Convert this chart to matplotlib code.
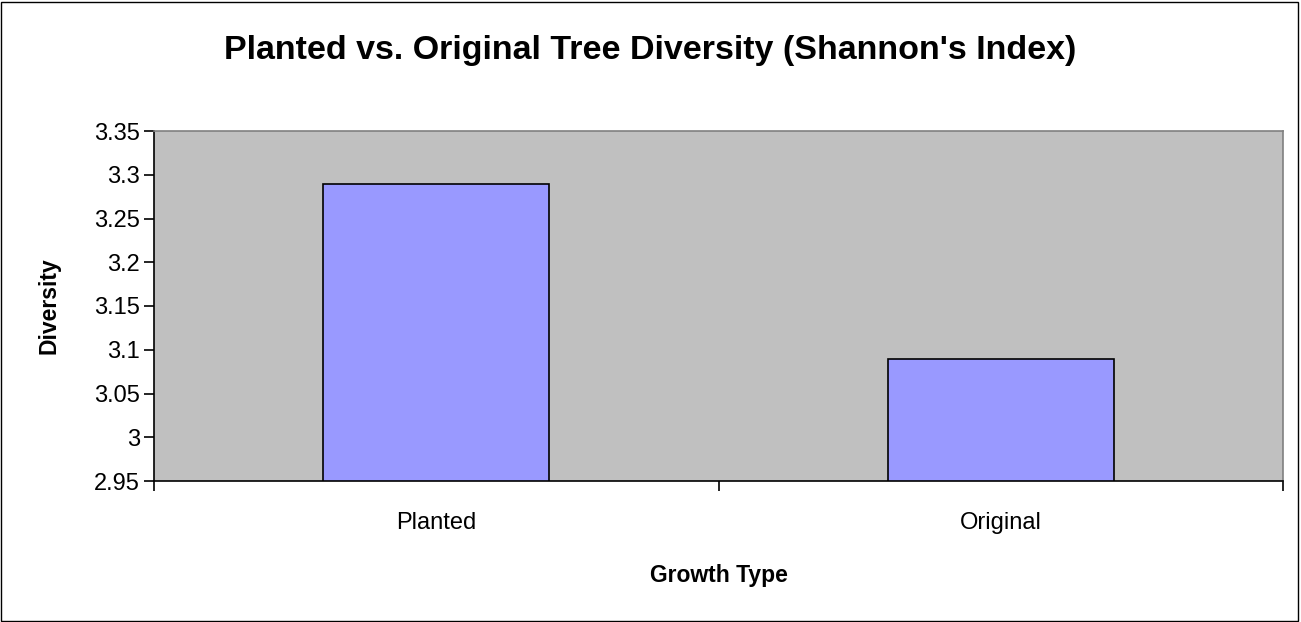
import matplotlib.pyplot as plt
from matplotlib.patches import Rectangle

categories = ["Planted", "Original"]
diversity = [3.29, 3.09]
y_ticks = [2.95, 3.0, 3.05, 3.1, 3.15, 3.2, 3.25, 3.3, 3.35]
y_labels = ["2.95", "3", "3.05", "3.1", "3.15", "3.2", "3.25", "3.3", "3.35"]

plt.rcParams["font.family"] = ["Liberation Sans", "DejaVu Sans"]

fig = plt.figure(figsize=(13.01, 6.22), dpi=100)
ax = fig.add_axes([154 / 1301, 1 - 481 / 622, (1283 - 154) / 1301, (481 - 131) / 622])

# figure border
fig.patches.append(Rectangle((0.001, 0.002), 0.997, 0.995, transform=fig.transFigure,
                             fill=False, edgecolor="black", linewidth=1))

ax.set_facecolor("#C0C0C0")
x = list(range(len(categories)))
ax.bar(x, [d - 2.95 for d in diversity], bottom=2.95, width=0.4,
       color="#9999FF", edgecolor="black", linewidth=1.2, zorder=3)

ax.set_xlim(-0.5, 1.5)
ax.set_ylim(2.95, 3.35)
ax.set_yticks(y_ticks)
ax.set_yticklabels(y_labels)
ax.set_xticks([-0.5, 0.5, 1.5])
ax.set_xticklabels([])
ax.set_xticks(x, minor=True)
ax.set_xticklabels(categories, minor=True)
ax.tick_params(axis="x", which="minor", length=0, pad=22, labelsize=17)
ax.tick_params(axis="x", which="major", length=7, width=1.2, direction="out")
ax.tick_params(axis="y", length=7, width=1.2, direction="out", labelsize=17, pad=3)

for side in ["top", "right"]:
    ax.spines[side].set_color("#808080")
    ax.spines[side].set_linewidth(1.2)
for side in ["left", "bottom"]:
    ax.spines[side].set_color("black")
    ax.spines[side].set_linewidth(1.2)

ax.set_xlabel("Growth Type", fontsize=16.5, fontweight="bold", labelpad=22)
ax.set_ylabel("Diversity", fontsize=16.5, fontweight="bold", labelpad=24)
fig.text(0.5, 1 - 50 / 622, "Planted vs. Original Tree Diversity (Shannon's Index)",
         ha="center", va="center", fontsize=24.5, fontweight="bold")

plt.savefig("out.png", dpi=100)
